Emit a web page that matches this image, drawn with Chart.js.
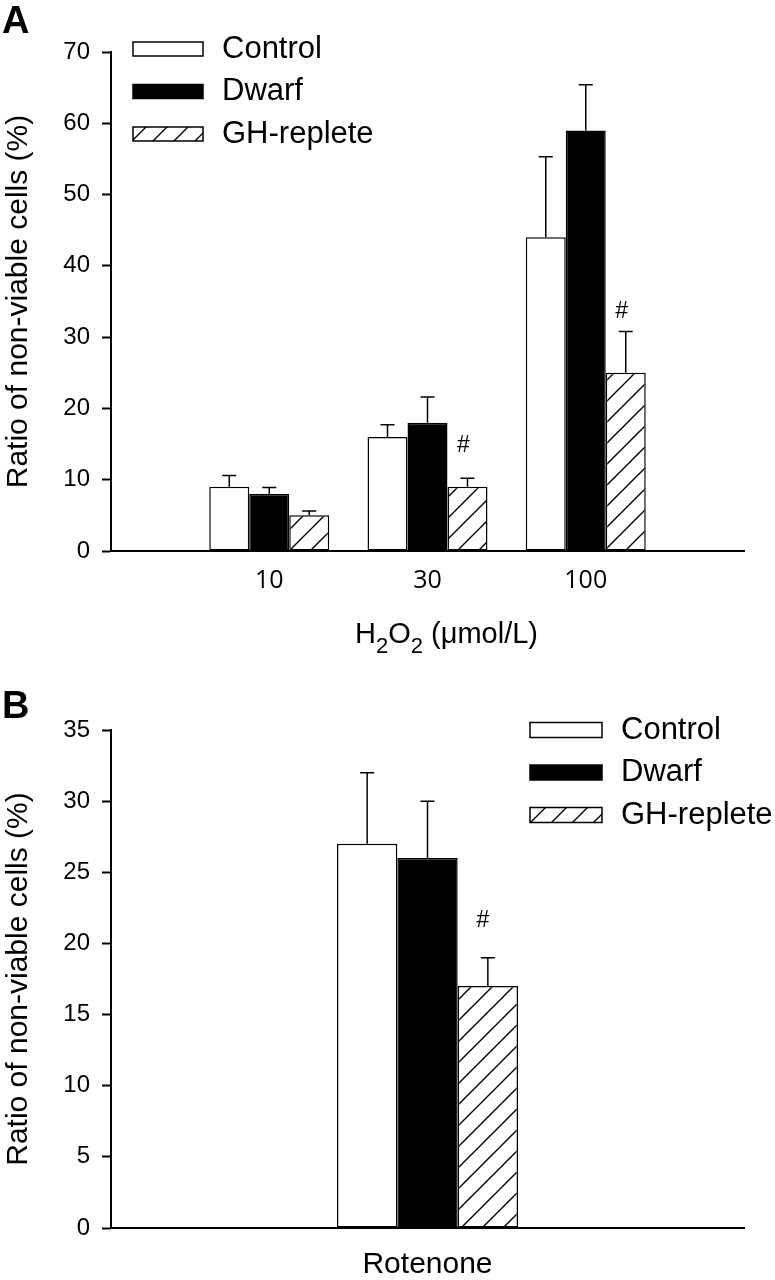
<!DOCTYPE html>
<html>
<head>
<meta charset="utf-8">
<script src="https://cdn.jsdelivr.net/npm/chart.js@4.4.1/dist/chart.umd.min.js"></script>
<style>
  html, body { margin: 0; padding: 0; background: #ffffff; }
  #wrap { position: relative; width: 775px; height: 1280px; overflow: hidden; background: #fff; }
  .cv { position: absolute; left: 0; }
  #boxA { top: 0; width: 775px; height: 660px; }
  #boxB { top: 660px; width: 775px; height: 620px; }
  .panel { position: absolute; left: 2px; font: bold 38px "Liberation Sans", Arial, sans-serif; line-height: 1; color: #000; }
</style>
</head>
<body>
<div id="wrap">
  <div class="cv" id="boxA"><canvas id="chartA" width="775" height="660"></canvas></div>
  <div class="cv" id="boxB"><canvas id="chartB" width="775" height="620"></canvas></div>
  <div class="panel" style="top:1px">A</div>
  <div class="panel" style="top:686px">B</div>
</div>
<script>
// ---------------- data ----------------
const seriesNames = ['Control', 'Dwarf', 'GH-replete'];

// Panel A: H2O2 doses
const h2o2Doses = ['10', '30', '100'];
const controlA = [9, 16, 44];
const dwarfA = [8, 18, 59];
const ghRepleteA = [5, 9, 25];
const controlErrA = [1.6, 1.7, 11.3];
const dwarfErrA = [0.9, 3.6, 6.4];
const ghRepleteErrA = [0.6, 1.2, 5.8];
const ghRepleteSigA = ['', '#', '#'];
const yTicksA = [0, 10, 20, 30, 40, 50, 60, 70];

// Panel B: Rotenone
const rotenoneCategory = ['Rotenone'];
const controlB = [27];
const dwarfB = [26];
const ghRepleteB = [17];
const controlErrB = [5];
const dwarfErrB = [4];
const ghRepleteErrB = [2];
const ghRepleteSigB = ['#'];
const yTicksB = [0, 5, 10, 15, 20, 25, 30, 35];

const yTitle = 'Ratio of non-viable cells (%)';

// ---------------- styles ----------------
const FONT = '"Liberation Sans", Arial, Helvetica, sans-serif';
const XFONT = '"Open Sans", "Liberation Sans", Arial, sans-serif';

function makeHatch() {
  const s = 21;
  const c = document.createElement('canvas');
  c.width = s; c.height = s;
  const g = c.getContext('2d');
  g.fillStyle = '#ffffff';
  g.fillRect(0, 0, s, s);
  g.strokeStyle = '#000000';
  g.lineWidth = 1.4;
  g.beginPath();
  g.moveTo(0, s); g.lineTo(s, 0);
  g.moveTo(-s / 2, s / 2); g.lineTo(s / 2, -s / 2);
  g.moveTo(s / 2, s * 1.5); g.lineTo(s * 1.5, s / 2);
  g.stroke();
  return g.createPattern(c, 'repeat');
}
const hatch = makeHatch();
const fills = ['#ffffff', '#000000', hatch];

// ---------------- plugins ----------------
const errorBars = {
  id: 'errorBars',
  afterDatasetsDraw(chart, args, o) {
    const ctx = chart.ctx;
    const y = chart.scales.y;
    chart.data.datasets.forEach((ds, i) => {
      const meta = chart.getDatasetMeta(i);
      meta.data.forEach((bar, j) => {
        const v = ds.data[j];
        const e = ds.errors ? ds.errors[j] : null;
        if (v == null || e == null) return;
        const top = y.getPixelForValue(v + e);
        ctx.save();
        ctx.strokeStyle = '#000';
        ctx.lineWidth = o.width;
        ctx.beginPath();
        ctx.moveTo(bar.x, bar.y);
        ctx.lineTo(bar.x, top);
        ctx.moveTo(bar.x - o.cap / 2, top);
        ctx.lineTo(bar.x + o.cap / 2, top);
        ctx.stroke();
        const mark = ds.marks ? ds.marks[j] : '';
        if (mark) {
          ctx.fillStyle = '#000';
          ctx.font = o.markFont;
          ctx.textAlign = 'center';
          ctx.textBaseline = 'middle';
          const lift = o.markLift[j] || 0;
          ctx.fillText(mark, bar.x + o.markDx, top - lift);
        }
        ctx.restore();
      });
    });
  }
};

const boxLegend = {
  id: 'boxLegend',
  afterDraw(chart, args, o) {
    const ctx = chart.ctx;
    ctx.save();
    chart.data.datasets.forEach((ds, i) => {
      const cy = o.y + i * o.gap;
      ctx.fillStyle = ds.backgroundColor;
      ctx.fillRect(o.x, cy - o.h / 2, o.w, o.h);
      ctx.strokeStyle = '#000';
      ctx.lineWidth = 1.5;
      ctx.strokeRect(o.x, cy - o.h / 2, o.w, o.h);
      ctx.fillStyle = '#000';
      ctx.font = o.font;
      ctx.textAlign = 'left';
      ctx.textBaseline = 'middle';
      ctx.fillText(ds.label, o.x + o.w + o.textGap, cy);
    });
    ctx.restore();
  }
};

const richXTitle = {
  id: 'richXTitle',
  afterDraw(chart, args, o) {
    if (!o.parts) return;
    const ctx = chart.ctx;
    ctx.save();
    ctx.fillStyle = '#000';
    ctx.textBaseline = 'alphabetic';
    ctx.textAlign = 'left';
    let total = 0;
    o.parts.forEach(p => {
      ctx.font = (p.sub ? o.subSize : o.size) + 'px ' + FONT;
      total += ctx.measureText(p.t).width;
    });
    let x = o.cx - total / 2;
    o.parts.forEach(p => {
      ctx.font = (p.sub ? o.subSize : o.size) + 'px ' + FONT;
      ctx.fillText(p.t, x, o.baseline + (p.sub ? o.subDrop : 0));
      x += ctx.measureText(p.t).width;
    });
    ctx.restore();
  }
};

// ---------------- helpers ----------------
function pad(arr, v) { return [v, ...arr, v]; }

function makeDatasets(values, errors, marks, padded) {
  return seriesNames.map((name, i) => ({
    label: name,
    data: padded ? pad(values[i], null) : values[i],
    errors: padded ? pad(errors[i], null) : errors[i],
    marks: marks[i] ? (padded ? pad(marks[i], '') : marks[i]) : null,
    backgroundColor: fills[i],
    borderColor: '#000000',
    borderWidth: 1.5,
    borderSkipped: false
  }));
}

function yScale(ticksArr, maxV, fitW) {
  return {
    type: 'linear',
    min: 0,
    max: maxV,
    afterBuildTicks: s => { s.ticks = ticksArr.map(v => ({ value: v })); },
    afterFit: s => { s.width = fitW; },
    grid: { drawOnChartArea: false, drawTicks: true, tickLength: 9, tickWidth: 2, tickColor: '#000' },
    border: { display: true, color: '#000', width: 2 },
    ticks: { color: '#000', font: { family: FONT, size: 24 }, padding: 12 },
    title: { display: true, text: yTitle, color: '#000', font: { family: FONT, size: 30 }, padding: { top: 1, bottom: 0 } }
  };
}

Chart.defaults.animation = false;

// ---------------- Panel A ----------------
new Chart(document.getElementById('chartA'), {
  type: 'bar',
  data: {
    labels: pad(h2o2Doses, ''),
    datasets: makeDatasets(
      [controlA, dwarfA, ghRepleteA],
      [controlErrA, dwarfErrA, ghRepleteErrA],
      [null, null, ghRepleteSigA],
      true)
  },
  options: {
    responsive: false,
    animation: false,
    layout: { padding: { top: 52, right: 31, left: 0, bottom: 0 } },
    datasets: { bar: { categoryPercentage: 0.758, barPercentage: 1 } },
    scales: {
      x: {
        type: 'category',
        offset: false,
        afterFit: s => { s.height = 109; },
        grid: { display: false, drawTicks: false },
        border: { display: true, color: '#000', width: 2 },
        ticks: { color: '#000', font: { family: XFONT, size: 25 }, padding: 15, autoSkip: false, maxRotation: 0 }
      },
      y: yScale(yTicksA, 70, 111)
    },
    plugins: {
      legend: { display: false },
      tooltip: { enabled: false },
      errorBars: { width: 1.5, cap: 14, markFont: '23px ' + FONT, markDx: -4, markLift: [0, 0, 33, 20, 0] },
      boxLegend: { x: 133, y: 49, gap: 42.5, w: 70, h: 14, textGap: 19, font: '31px ' + FONT },
      richXTitle: {
        cx: 446.5, baseline: 643, size: 29, subSize: 22, subDrop: 10,
        parts: [{ t: 'H' }, { t: '2', sub: true }, { t: 'O' }, { t: '2', sub: true }, { t: ' (\u03BCmol/L)' }]
      }
    }
  },
  plugins: [errorBars, boxLegend, richXTitle]
});

// ---------------- Panel B ----------------
new Chart(document.getElementById('chartB'), {
  type: 'bar',
  data: {
    labels: rotenoneCategory,
    datasets: makeDatasets(
      [controlB, dwarfB, ghRepleteB],
      [controlErrB, dwarfErrB, ghRepleteErrB],
      [null, null, ghRepleteSigB],
      false)
  },
  options: {
    responsive: false,
    animation: false,
    layout: { padding: { top: 70, right: 31, left: 0, bottom: 0 } },
    datasets: { bar: { categoryPercentage: 0.286, barPercentage: 1 } },
    scales: {
      x: {
        type: 'category',
        offset: true,
        afterFit: s => { s.height = 52; },
        grid: { display: false, drawTicks: false },
        border: { display: true, color: '#000', width: 2 },
        ticks: { color: '#000', font: { family: FONT, size: 30 }, padding: 19, autoSkip: false, maxRotation: 0 }
      },
      y: yScale(yTicksB, 35, 111)
    },
    plugins: {
      legend: { display: false },
      tooltip: { enabled: false },
      errorBars: { width: 1.5, cap: 14, markFont: '23px ' + FONT, markDx: -5, markLift: [37] },
      boxLegend: { x: 530, y: 70, gap: 42.5, w: 72, h: 15, textGap: 19, font: '31px ' + FONT },
      richXTitle: {}
    }
  },
  plugins: [errorBars, boxLegend, richXTitle]
});
</script>
</body>
</html>
